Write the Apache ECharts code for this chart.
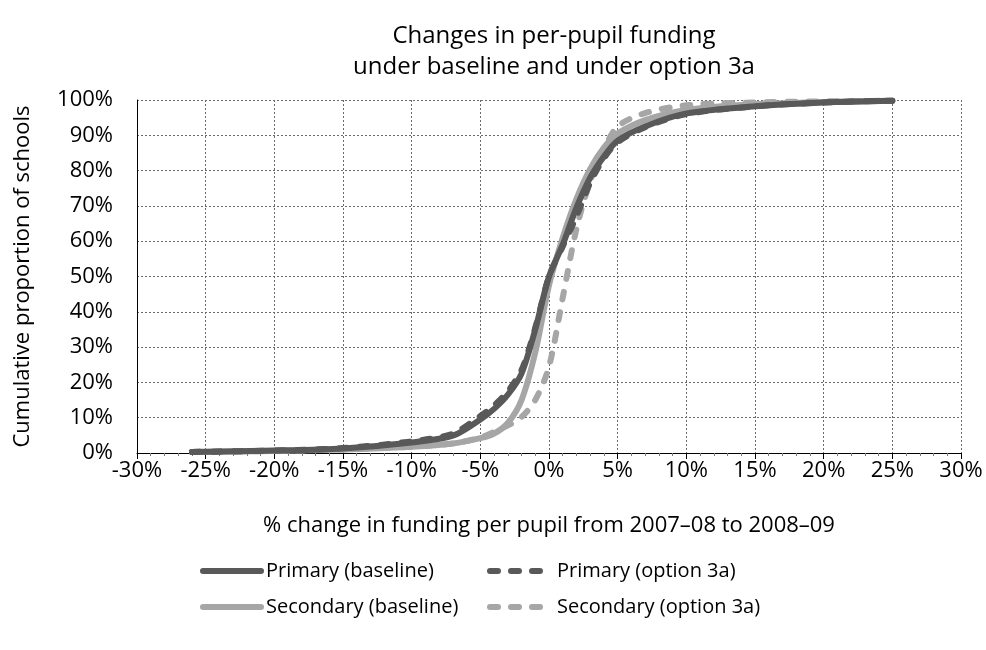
<!DOCTYPE html>
<html>
<head>
<meta charset="utf-8">
<script src="https://cdn.jsdelivr.net/npm/echarts@6/dist/echarts.min.js"></script>
<style>
  html, body { margin: 0; padding: 0; background: #fff; }
  #chart { width: 986px; height: 650px; }
</style>
</head>
<body>
<div id="chart"></div>
<script>
// % change in funding per pupil (x positions shared by all four curves)
const changePct = [-26, -20, -15, -10, -7, -5, -4, -3, -2, -1, 0, 1, 2, 3, 4, 5, 7, 10, 15, 20, 25];

// Cumulative proportion of schools (%) at each change value
const primaryBaseline   = [0.3, 0.7, 1.3, 3.0, 4.9, 9.5, 12.5, 16.5, 22.5, 35, 50, 59, 69.5, 78, 84, 88.5, 92.5, 96.2, 98.2, 99.3, 99.8];
const primaryOption3a   = [0.3, 0.7, 1.4, 3.3, 5.5, 10.5, 13.5, 17.5, 23.5, 35.5, 50, 58.5, 67, 76.5, 83.5, 88, 92.3, 96, 98.2, 99.3, 99.8];
const secondaryBaseline = [0.3, 0.6, 1.0, 1.8, 2.7, 4.2, 5.5, 8.5, 15, 28.5, 47.5, 61, 72, 80.5, 86.5, 90.5, 94.3, 97.2, 98.8, 99.4, 99.8];
const secondaryOption3a = [0.3, 0.6, 1.0, 1.8, 2.7, 4.4, 6.0, 7.8, 10.2, 15, 24.5, 44, 63.5, 77, 86, 92.5, 96.3, 98.5, 99.3, 99.6, 99.8];

const seriesNames = ['Primary (baseline)', 'Primary (option 3a)', 'Secondary (baseline)', 'Secondary (option 3a)'];

const DARK = '#595959';
const LIGHT = '#a6a6a6';
const FONT = 'Open Sans';
const DASH = [8, 13];

function pairs(ys) { return changePct.map((x, i) => [x, ys[i]]); }

function lineSeries(name, ys, color, dashed) {
  return {
    name: name,
    type: 'line',
    data: pairs(ys),
    smooth: 0.3,
    symbol: 'none',
    lineStyle: {
      color: color,
      width: 6,
      type: dashed ? DASH : 'solid',
      cap: 'round',
      join: 'round'
    },
    itemStyle: { color: color },
    emphasis: { disabled: true }
  };
}

const chart = echarts.init(document.getElementById('chart'), null, { renderer: 'canvas' });

const gridLine = { show: true, lineStyle: { color: '#6a6a6a', width: 1, type: [2, 2] } };
const legendText = { fontFamily: FONT, fontSize: 20, color: '#000' };
const legendCommon = {
  orient: 'vertical',
  top: 556,
  itemHeight: 20,
  itemGap: 16,
  itemStyle: { opacity: 0 },
  lineStyle: { width: 6, cap: 'round' },
  textStyle: legendText
};

chart.setOption({
  animation: false,
  backgroundColor: '#fff',
  title: {
    text: 'Changes in per-pupil funding\nunder baseline and under option 3a',
    left: 549,
    textAlign: 'center',
    top: 16,
    textStyle: { fontFamily: FONT, fontSize: 24, fontWeight: 'normal', color: '#000', lineHeight: 31 }
  },
  legend: [
    Object.assign({}, legendCommon, {
      data: [seriesNames[0], seriesNames[2]],
      left: 195, itemWidth: 58
    }),
    Object.assign({}, legendCommon, {
      data: [seriesNames[1], seriesNames[3]],
      left: 482, itemWidth: 62
    })
  ],
  grid: { left: 137, right: 25, top: 100, bottom: 197, containLabel: false, outerBoundsMode: 'none' },
  xAxis: {
    type: 'value',
    min: -30, max: 30, interval: 5,
    name: '% change in funding per pupil from 2007\u201308 to 2008\u201309',
    nameLocation: 'middle',
    nameGap: 62,
    nameTextStyle: { fontFamily: FONT, fontSize: 22, color: '#000' },
    axisLine: { show: true, onZero: false, lineStyle: { color: '#000', width: 1 } },
    axisTick: { show: true, length: 6, lineStyle: { color: '#000' } },
    minorTick: { show: true, splitNumber: 5, length: 3, lineStyle: { color: '#777' } },
    axisLabel: { formatter: v => v + '%', fontFamily: FONT, fontSize: 22, color: '#000', margin: 7 },
    splitLine: gridLine
  },
  yAxis: [
    {
      type: 'value',
      min: 0, max: 100, interval: 10,
      name: 'Cumulative proportion of schools',
      nameLocation: 'middle',
      nameGap: 103,
      nameTextStyle: { fontFamily: FONT, fontSize: 22, color: '#000' },
      axisLine: { show: false },
      axisTick: { show: false },
      axisLabel: { formatter: v => v + '%', fontFamily: FONT, fontSize: 22, color: '#000', margin: 24 },
      splitLine: gridLine
    },
    {
      // vertical reference line through 0% change
      type: 'value',
      min: 0, max: 100, interval: 10,
      position: 'left',
      axisLine: { show: true, onZero: true, lineStyle: { color: '#000', width: 1 } },
      axisTick: { show: false },
      axisLabel: { show: false },
      splitLine: { show: false }
    }
  ],
  series: [
    lineSeries(seriesNames[3], secondaryOption3a, LIGHT, true),
    lineSeries(seriesNames[2], secondaryBaseline, LIGHT, false),
    lineSeries(seriesNames[1], primaryOption3a, DARK, true),
    lineSeries(seriesNames[0], primaryBaseline, DARK, false)
  ]
});
</script>
</body>
</html>
